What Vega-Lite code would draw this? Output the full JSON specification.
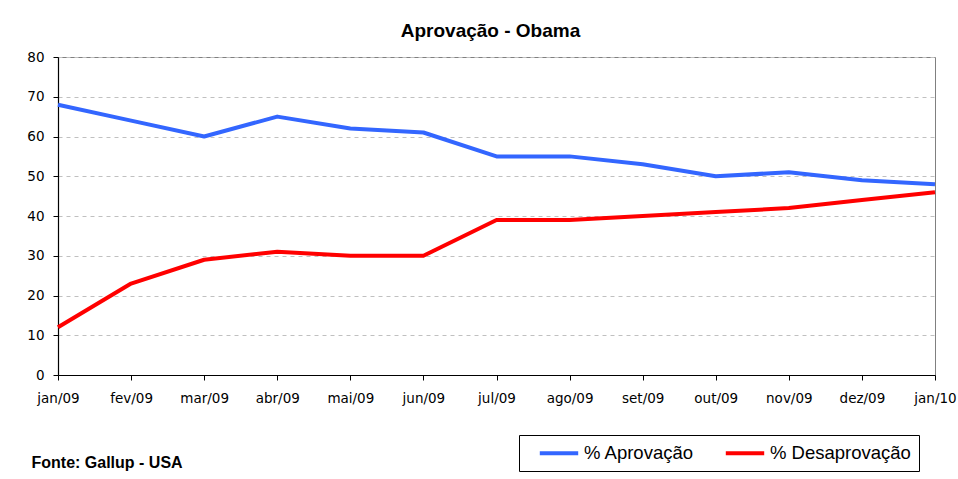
{
  "$schema": "https://vega.github.io/schema/vega-lite/v6.json",
  "autosize": {"type": "none"},
  "padding": {"left": 58, "top": 57, "right": 23, "bottom": 104},
  "width": 877,
  "height": 318,
  "background": "white",
  "title": {
    "text": "Aprovação - Obama",
    "font": "Liberation Sans",
    "fontSize": 19,
    "fontWeight": "bold",
    "color": "#000000",
    "anchor": "middle",
    "dx": -6,
    "offset": 20,
    "dy": 11
  },
  "data": {
    "values": [
      {"mes": "jan/09", "serie": "% Aprovação", "valor": 68},
      {"mes": "fev/09", "serie": "% Aprovação", "valor": 64},
      {"mes": "mar/09", "serie": "% Aprovação", "valor": 60},
      {"mes": "abr/09", "serie": "% Aprovação", "valor": 65},
      {"mes": "mai/09", "serie": "% Aprovação", "valor": 62},
      {"mes": "jun/09", "serie": "% Aprovação", "valor": 61},
      {"mes": "jul/09", "serie": "% Aprovação", "valor": 55},
      {"mes": "ago/09", "serie": "% Aprovação", "valor": 55},
      {"mes": "set/09", "serie": "% Aprovação", "valor": 53},
      {"mes": "out/09", "serie": "% Aprovação", "valor": 50},
      {"mes": "nov/09", "serie": "% Aprovação", "valor": 51},
      {"mes": "dez/09", "serie": "% Aprovação", "valor": 49},
      {"mes": "jan/10", "serie": "% Aprovação", "valor": 48},
      {"mes": "jan/09", "serie": "% Desaprovação", "valor": 12},
      {"mes": "fev/09", "serie": "% Desaprovação", "valor": 23},
      {"mes": "mar/09", "serie": "% Desaprovação", "valor": 29},
      {"mes": "abr/09", "serie": "% Desaprovação", "valor": 31},
      {"mes": "mai/09", "serie": "% Desaprovação", "valor": 30},
      {"mes": "jun/09", "serie": "% Desaprovação", "valor": 30},
      {"mes": "jul/09", "serie": "% Desaprovação", "valor": 39},
      {"mes": "ago/09", "serie": "% Desaprovação", "valor": 39},
      {"mes": "set/09", "serie": "% Desaprovação", "valor": 40},
      {"mes": "out/09", "serie": "% Desaprovação", "valor": 41},
      {"mes": "nov/09", "serie": "% Desaprovação", "valor": 42},
      {"mes": "dez/09", "serie": "% Desaprovação", "valor": 44},
      {"mes": "jan/10", "serie": "% Desaprovação", "valor": 46}
    ]
  },
  "mark": {"type": "line", "strokeWidth": 4, "strokeJoin": "round"},
  "encoding": {
    "x": {
      "field": "mes",
      "type": "ordinal",
      "sort": null,
      "scale": {"type": "point", "padding": 0},
      "axis": {
        "title": "Fonte: Gallup - USA",
        "titleFont": "Liberation Sans",
        "titleFontSize": 16,
        "titleFontWeight": "bold",
        "titleColor": "#000000",
        "titleAnchor": "start",
        "titleAlign": "left",
        "titleBaseline": "alphabetic",
        "titleX": -27,
        "titleY": 92,
        "labelAngle": 0,
        "labelFont": "DejaVu Sans",
        "labelFontSize": 13.5,
        "labelColor": "#000000",
        "labelPadding": 11,
        "labelOverlap": false,
        "labelBound": false,
        "labelFlush": false,
        "domainColor": "#000000",
        "domainWidth": 1.2,
        "tickColor": "#000000",
        "tickSize": 5,
        "grid": false
      }
    },
    "y": {
      "field": "valor",
      "type": "quantitative",
      "scale": {"domain": [0, 80], "nice": false},
      "axis": {
        "title": null,
        "values": [0, 10, 20, 30, 40, 50, 60, 70, 80],
        "labelFont": "DejaVu Sans",
        "labelFontSize": 13.5,
        "labelColor": "#000000",
        "labelPadding": 9,
        "domainColor": "#000000",
        "domainWidth": 1.2,
        "tickColor": "#000000",
        "tickSize": 5,
        "grid": true,
        "gridColor": "#c0c0c0",
        "gridDash": [4, 4],
        "gridWidth": 1
      }
    },
    "color": {
      "field": "serie",
      "type": "nominal",
      "scale": {"domain": ["% Aprovação", "% Desaprovação"], "range": ["#3366ff", "#ff0000"]},
      "legend": {
        "title": null,
        "orient": "none",
        "direction": "horizontal",
        "legendX": 461,
        "legendY": 378,
        "padding": 8,
        "strokeColor": "#000000",
        "fillColor": "#ffffff",
        "symbolType": "M-2.4,0H2.4",
        "symbolSize": 256,
        "symbolStrokeWidth": 4,
        "symbolOffset": 22,
        "labelFont": "Liberation Sans",
        "labelFontSize": 18.5,
        "labelColor": "#000000",
        "labelOffset": 15,
        "columnPadding": 18
      }
    }
  },
  "config": {
    "view": {"stroke": "#808080", "strokeWidth": 1}
  }
}
